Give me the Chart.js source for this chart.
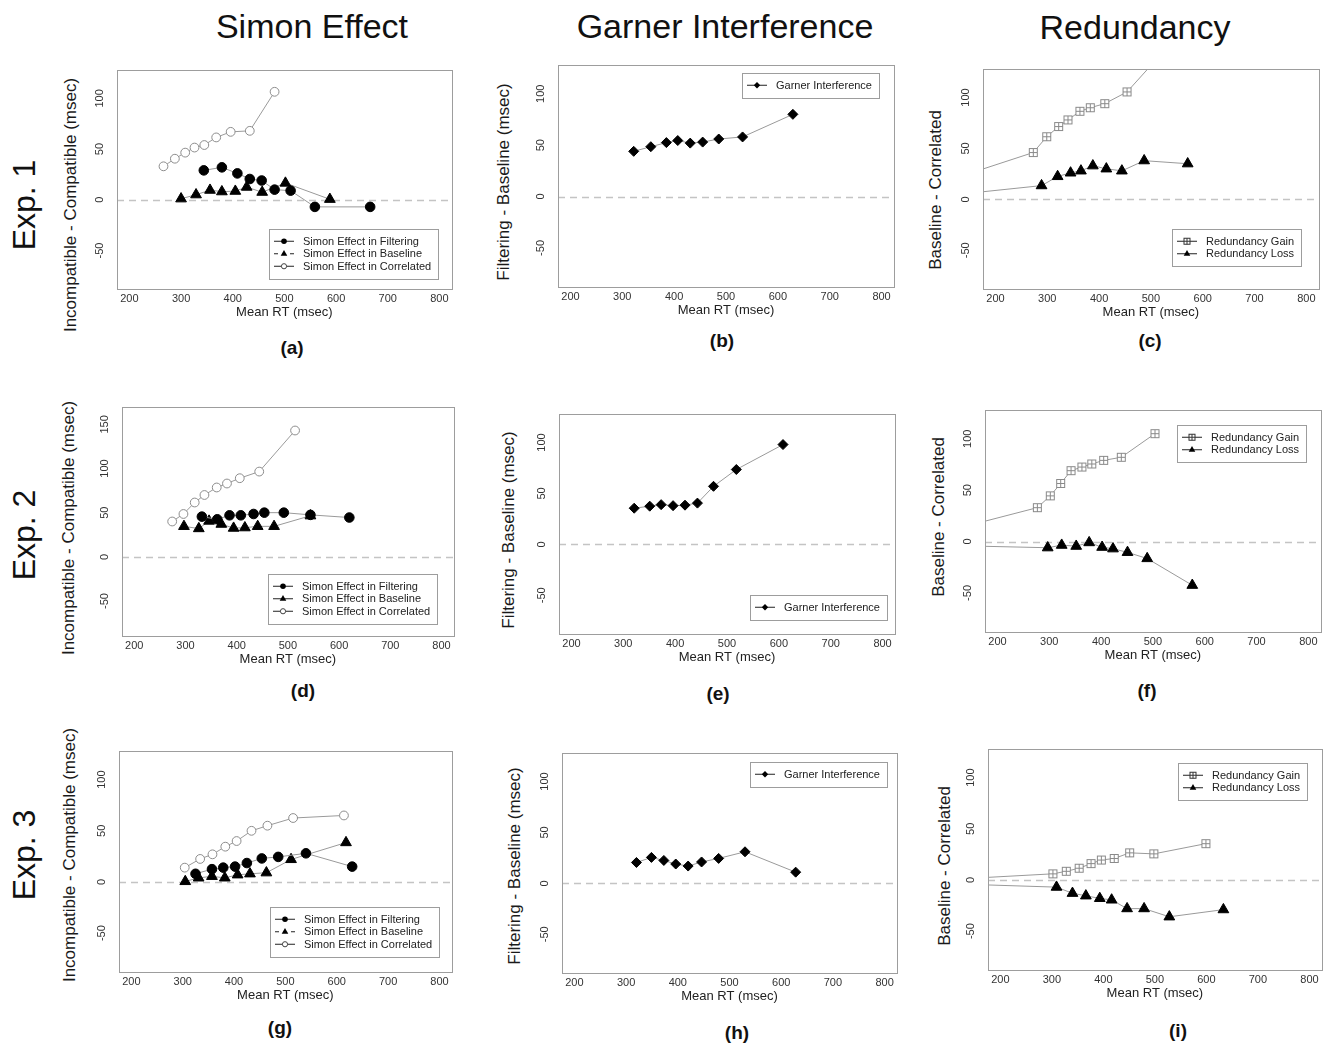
<!DOCTYPE html>
<html>
<head>
<meta charset="utf-8">
<title>Simon Effect, Garner Interference and Redundancy</title>
<script src="https://cdn.jsdelivr.net/npm/chart.js@4.4.1/dist/chart.umd.min.js"></script>
<style>
html,body{margin:0;padding:0;background:#fff;}
#fig{position:relative;width:1331px;height:1045px;overflow:hidden;font-family:'Liberation Sans',Arial,Helvetica,sans-serif;color:#111;}
.t{position:absolute;white-space:nowrap;line-height:1;transform:translate(-50%,-50%);}
.r{transform:translate(-50%,-50%) rotate(-90deg);}
.hdr{font-size:34px;}
.exp{font-size:32px;}
.yt{font-size:17px;color:#1a1a1a;}
.lt{font-size:19px;font-weight:bold;}
canvas{position:absolute;}
</style>
</head>
<body>
<div id="fig">
  <div class="t hdr" style="left:312px;top:26px">Simon Effect</div>
  <div class="t hdr" style="left:725px;top:26px">Garner Interference</div>
  <div class="t hdr" style="left:1135px;top:27px">Redundancy</div>

  <div class="t r exp" style="left:24px;top:205px">Exp. 1</div>
  <div class="t r exp" style="left:24px;top:535px">Exp. 2</div>
  <div class="t r exp" style="left:24px;top:855px">Exp. 3</div>

  <div class="t r yt" style="left:70px;top:205px">Incompatible - Compatible (msec)</div>
  <div class="t r yt" style="left:68px;top:528px">Incompatible - Compatible (msec)</div>
  <div class="t r yt" style="left:69px;top:855px">Incompatible - Compatible (msec)</div>
  <div class="t r yt" style="left:503px;top:182px">Filtering - Baseline (msec)</div>
  <div class="t r yt" style="left:508px;top:530px">Filtering - Baseline (msec)</div>
  <div class="t r yt" style="left:514px;top:866px">Filtering - Baseline (msec)</div>
  <div class="t r yt" style="left:935px;top:190px">Baseline - Correlated</div>
  <div class="t r yt" style="left:938px;top:517px">Baseline - Correlated</div>
  <div class="t r yt" style="left:944px;top:866px">Baseline - Correlated</div>

  <div class="t lt" style="left:292px;top:347px">(a)</div>
  <div class="t lt" style="left:722px;top:340px">(b)</div>
  <div class="t lt" style="left:1150px;top:340px">(c)</div>
  <div class="t lt" style="left:303px;top:690px">(d)</div>
  <div class="t lt" style="left:718px;top:693px">(e)</div>
  <div class="t lt" style="left:1147px;top:690px">(f)</div>
  <div class="t lt" style="left:280px;top:1027px">(g)</div>
  <div class="t lt" style="left:737px;top:1032px">(h)</div>
  <div class="t lt" style="left:1178px;top:1030px">(i)</div>
</div>
<script>
// ---------------- tick labels ----------------
const xTickValues = [200, 300, 400, 500, 600, 700, 800];
const yTickValues = [-50, 0, 50, 100];
const yTickValuesExp2Simon = [-50, 0, 50, 100, 150];
const referenceValue = 0;

// ---------------- Experiment 1 ----------------
const exp1FilteringRT    = [344, 379, 409, 433, 456, 481, 512, 559, 666];
const exp1FilteringSimon = [29, 32, 26, 20.5, 19, 10, 9, -7, -7];
const exp1BaselineRT     = [300, 329, 356, 379, 405, 427, 457, 502, 588];
const exp1BaselineSimon  = [1, 5, 9.5, 8, 8.5, 12.5, 7.5, 16.5, 0.5];
const exp1CorrelatedRT   = [266, 288, 308, 326, 345, 368, 396, 433, 481];
const exp1CorrelatedSimon= [33, 40.5, 46.5, 51.5, 54, 61.5, 67, 68, 106.5];
const exp1GarnerRT       = [322, 355, 385, 407, 431, 455, 486, 532, 629];
const exp1Garner         = [44, 48.5, 52.5, 54.5, 52, 53, 56, 58, 80];
const exp1GainRT         = [120, 273, 299, 322, 340, 363, 383, 411, 454, 540];
const exp1Gain           = [20.5, 46, 61.5, 71.5, 78, 86.5, 90, 94, 105.5, 154];
const exp1LossRT         = [120, 289, 320, 345, 365, 388, 414, 444, 487, 571];
const exp1Loss           = [4.5, 13.5, 22.5, 26, 28, 33, 30, 28, 38, 35];

// ---------------- Experiment 2 ----------------
const exp2FilteringRT    = [332, 362, 386, 408, 433, 454, 492, 544, 620];
const exp2FilteringSimon = [45.5, 42.5, 47, 47, 48.5, 50, 50, 47.5, 44.5];
const exp2BaselineRT     = [297, 326, 346, 370, 394, 416, 441, 473, 544];
const exp2BaselineSimon  = [34.5, 32, 40.5, 37, 32.5, 33, 34.5, 34.5, 46.5];
const exp2CorrelatedRT   = [274, 296, 318, 337, 361, 381, 406, 444, 514];
const exp2CorrelatedSimon= [40, 48.5, 61.5, 70, 78.5, 83, 89, 96.5, 143];
const exp2GarnerRT       = [321, 351, 373, 396, 419, 443, 474, 518, 608];
const exp2Garner         = [35.5, 37.5, 39, 38, 38.5, 40.5, 57, 73.5, 98];
const exp2GainRT         = [120, 277, 302, 322, 342, 363, 382, 405, 439, 504];
const exp2Gain           = [12.5, 33, 44.5, 56.5, 69, 72.5, 75.5, 79, 82, 105];
const exp2LossRT         = [120, 297, 324, 352, 377, 402, 423, 451, 489, 576];
const exp2Loss           = [-4, -6, -3.5, -4.5, -1, -5.5, -7, -10.5, -16.5, -42.5];

// ---------------- Experiment 3 ----------------
const exp3FilteringRT    = [325, 357, 379, 402, 425, 454, 486, 540, 630];
const exp3FilteringSimon = [8, 12.5, 14, 15, 18.5, 23, 24.5, 28, 15];
const exp3BaselineRT     = [305, 331, 357, 382, 407, 431, 463, 511, 618];
const exp3BaselineSimon  = [0.5, 4, 5.5, 4, 7, 8, 9, 22, 38.5];
const exp3CorrelatedRT   = [304, 334, 358, 383, 405, 434, 465, 515, 614];
const exp3CorrelatedSimon= [14, 22.5, 27, 34.5, 40, 50, 55, 62.5, 65];
const exp3GarnerRT       = [320, 349, 373, 396, 420, 446, 479, 530, 628];
const exp3Garner         = [20.5, 25.5, 22.5, 19, 17, 21, 24.5, 31, 11];
const exp3GainRT         = [120, 302, 328, 353, 376, 396, 421, 451, 498, 599];
const exp3Gain           = [1, 6, 8.5, 11.5, 16, 19.5, 21, 26.5, 25.5, 35.5];
const exp3LossRT         = [120, 309, 340, 366, 393, 416, 446, 479, 528, 633];
const exp3Loss           = [-4, -7, -13, -15.5, -18, -19.5, -28, -28, -36, -29];

// ---------------- styling ----------------
const FONT = "'Liberation Sans', Arial, Helvetica, sans-serif";
Chart.defaults.font.family = FONT;
Chart.defaults.color = '#333';
const LINE = '#9a9a9a';
const PT = 16, PR = 6, YW = 34, XH = 34;

function boxPlusImage() {
  const c = document.createElement('canvas');
  c.width = 11; c.height = 11;
  const g = c.getContext('2d');
  g.fillStyle = '#fff'; g.fillRect(1, 1, 9, 9);
  g.strokeStyle = '#8a8a8a'; g.lineWidth = 1;
  g.strokeRect(1.5, 1.5, 8, 8);
  g.beginPath();
  g.moveTo(5.5, 1.5); g.lineTo(5.5, 9.5);
  g.moveTo(1.5, 5.5); g.lineTo(9.5, 5.5);
  g.stroke();
  return c;
}
const BOXPLUS = boxPlusImage();

const STYLES = {
  filled:  {pointStyle: 'circle', pointRadius: 4.8, pointBackgroundColor: '#000', pointBorderColor: '#000', pointBorderWidth: 1},
  tri:     {pointStyle: 'triangle', pointRadius: 6.2, pointBackgroundColor: '#000', pointBorderColor: '#000', pointBorderWidth: 1},
  open:    {pointStyle: 'circle', pointRadius: 4.4, pointBackgroundColor: '#fff', pointBorderColor: '#8c8c8c', pointBorderWidth: 1},
  boxplus: {pointStyle: BOXPLUS, pointRadius: 5, pointBackgroundColor: '#fff', pointBorderColor: '#8c8c8c', pointBorderWidth: 1},
  diamond: {pointStyle: 'rectRot', pointRadius: 5, pointBackgroundColor: '#000', pointBorderColor: '#000', pointBorderWidth: 1}
};

function series(label, xs, ys, style, legendMarker, legendDash) {
  return Object.assign({
    label: label,
    data: xs.map((x, i) => ({x: x, y: ys[i]})),
    showLine: true, borderColor: LINE, borderWidth: 1, fill: false, tension: 0,
    pointHoverRadius: 0, legendMarker: legendMarker, legendDash: legendDash
  }, STYLES[style]);
}

function simonSets(fx, fy, bx, by, cx, cy, dashed) {
  return [
    series('Simon Effect in Filtering', fx, fy, 'filled', 'circle', false),
    series('Simon Effect in Baseline', bx, by, 'tri', 'triangle', dashed),
    series('Simon Effect in Correlated', cx, cy, 'open', 'ocircle', false)
  ];
}
function garnerSets(x, y) {
  return [series('Garner Interference', x, y, 'diamond', 'diamond', false)];
}
function redundancySets(gx, gy, lx, ly) {
  return [
    series('Redundancy Gain', gx, gy, 'boxplus', 'boxplus', false),
    series('Redundancy Loss', lx, ly, 'tri', 'triangle', false)
  ];
}

const PANELS = [
  {box: {l: 117, t: 70,  w: 336, h: 219}, y: [-88, 128], yt: yTickValues, legend: {top: 159, right: 14},
   datasets: simonSets(exp1FilteringRT, exp1FilteringSimon, exp1BaselineRT, exp1BaselineSimon, exp1CorrelatedRT, exp1CorrelatedSimon, true)},
  {box: {l: 558, t: 65,  w: 336, h: 222}, y: [-88, 128], yt: yTickValues, legend: {top: 8, right: 15},
   datasets: garnerSets(exp1GarnerRT, exp1Garner)},
  {box: {l: 983, t: 69,  w: 337, h: 220}, y: [-88, 128], yt: yTickValues, legend: {top: 160, right: 18},
   datasets: redundancySets(exp1GainRT, exp1Gain, exp1LossRT, exp1Loss)},

  {box: {l: 122, t: 407, w: 333, h: 229}, y: [-89.6, 169.6], yt: yTickValuesExp2Simon, legend: {top: 167, right: 17},
   datasets: simonSets(exp2FilteringRT, exp2FilteringSimon, exp2BaselineRT, exp2BaselineSimon, exp2CorrelatedRT, exp2CorrelatedSimon, false)},
  {box: {l: 559, t: 414, w: 336, h: 220}, y: [-88, 128], yt: yTickValues, legend: {top: 181, right: 8},
   datasets: garnerSets(exp2GarnerRT, exp2Garner)},
  {box: {l: 985, t: 410, w: 337, h: 222}, y: [-88, 128], yt: yTickValues, legend: {top: 15, right: 15},
   datasets: redundancySets(exp2GainRT, exp2Gain, exp2LossRT, exp2Loss)},

  {box: {l: 119, t: 751, w: 334, h: 221}, y: [-88, 128], yt: yTickValues, legend: {top: 156, right: 13},
   datasets: simonSets(exp3FilteringRT, exp3FilteringSimon, exp3BaselineRT, exp3BaselineSimon, exp3CorrelatedRT, exp3CorrelatedSimon, true)},
  {box: {l: 562, t: 753, w: 335, h: 220}, y: [-88, 128], yt: yTickValues, legend: {top: 9, right: 10},
   datasets: garnerSets(exp3GarnerRT, exp3Garner)},
  {box: {l: 988, t: 749, w: 335, h: 221}, y: [-88, 128], yt: yTickValues, legend: {top: 14, right: 15},
   datasets: redundancySets(exp3GainRT, exp3Gain, exp3LossRT, exp3Loss)}
];

function drawMarker(ctx, kind, x, y) {
  ctx.save();
  ctx.setLineDash([]);
  ctx.beginPath();
  if (kind === 'circle') {
    ctx.arc(x, y, 2.8, 0, Math.PI * 2);
    ctx.fillStyle = '#000'; ctx.fill();
  } else if (kind === 'triangle') {
    const r = 3.8;
    ctx.moveTo(x, y - r);
    ctx.lineTo(x + r * 0.866, y + r * 0.5);
    ctx.lineTo(x - r * 0.866, y + r * 0.5);
    ctx.closePath();
    ctx.fillStyle = '#000'; ctx.fill();
  } else if (kind === 'ocircle') {
    ctx.arc(x, y, 2.6, 0, Math.PI * 2);
    ctx.fillStyle = '#fff'; ctx.fill();
    ctx.strokeStyle = '#444'; ctx.lineWidth = 1; ctx.stroke();
  } else if (kind === 'diamond') {
    const r = 3.2;
    ctx.moveTo(x - r, y); ctx.lineTo(x, y - r); ctx.lineTo(x + r, y); ctx.lineTo(x, y + r);
    ctx.closePath();
    ctx.fillStyle = '#000'; ctx.fill();
  } else if (kind === 'boxplus') {
    const s = 3;
    ctx.fillStyle = '#fff'; ctx.fillRect(x - s, y - s, 2 * s, 2 * s);
    ctx.strokeStyle = '#333'; ctx.lineWidth = 1;
    ctx.strokeRect(x - s, y - s, 2 * s, 2 * s);
    ctx.moveTo(x, y - s); ctx.lineTo(x, y + s);
    ctx.moveTo(x - s, y); ctx.lineTo(x + s, y);
    ctx.stroke();
  }
  ctx.restore();
}

const decorPlugin = {
  id: 'rdecor',
  beforeDatasetsDraw(chart) {
    const {ctx, chartArea: a, scales} = chart;
    const py = Math.round(scales.y.getPixelForValue(referenceValue)) + 0.5;
    ctx.save();
    ctx.strokeStyle = '#c4c4c4'; ctx.lineWidth = 1.4; ctx.setLineDash([7, 5]);
    ctx.beginPath(); ctx.moveTo(a.left, py); ctx.lineTo(a.right, py); ctx.stroke();
    ctx.restore();
  },
  afterDatasetsDraw(chart, args, opts) {
    const {ctx, chartArea: a} = chart;
    ctx.save();
    ctx.strokeStyle = '#9d9d9d'; ctx.lineWidth = 1; ctx.setLineDash([]);
    ctx.strokeRect(Math.round(a.left) + 0.5, Math.round(a.top) + 0.5,
                   Math.round(a.right - a.left), Math.round(a.bottom - a.top));
    // legend box
    const ds = chart.data.datasets;
    ctx.font = '11px ' + FONT;
    const rowH = 12.5, padY = 6, textX = 34, padR = 7;
    const tw = Math.max.apply(null, ds.map(d => ctx.measureText(d.label).width));
    const w = Math.round(textX + tw + padR), h = Math.round(ds.length * rowH + 2 * padY);
    const lx = Math.round(a.right - opts.right - w), ly = Math.round(a.top + opts.top);
    ctx.fillStyle = '#fff'; ctx.fillRect(lx, ly, w, h);
    ctx.strokeStyle = '#9d9d9d'; ctx.strokeRect(lx + 0.5, ly + 0.5, w, h);
    ds.forEach((d, i) => {
      const cy = ly + padY + rowH * (i + 0.5);
      ctx.strokeStyle = '#222'; ctx.lineWidth = 1;
      ctx.beginPath();
      if (d.legendDash) {
        ctx.moveTo(lx + 5, cy); ctx.lineTo(lx + 9, cy);
        ctx.moveTo(lx + 21, cy); ctx.lineTo(lx + 25, cy);
      } else {
        ctx.moveTo(lx + 5, cy); ctx.lineTo(lx + 25, cy);
      }
      ctx.stroke();
      drawMarker(ctx, d.legendMarker, lx + 15, cy);
      ctx.fillStyle = '#222'; ctx.textBaseline = 'middle'; ctx.textAlign = 'left';
      ctx.font = '11px ' + FONT;
      ctx.fillText(d.label, lx + textX, cy + 0.5);
    });
    ctx.restore();
  }
};

const fig = document.getElementById('fig');
PANELS.forEach(p => {
  const cv = document.createElement('canvas');
  const W = YW + p.box.w + PR, H = PT + p.box.h + XH;
  cv.width = W; cv.height = H;
  cv.style.left = (p.box.l - YW) + 'px';
  cv.style.top = (p.box.t - PT) + 'px';
  cv.style.width = W + 'px'; cv.style.height = H + 'px';
  fig.appendChild(cv);
  const yt = p.yt;
  new Chart(cv.getContext('2d'), {
    type: 'scatter',
    data: {datasets: p.datasets},
    plugins: [decorPlugin],
    options: {
      responsive: false,
      animation: false,
      devicePixelRatio: 1,
      layout: {padding: {top: PT, right: PR, left: 0, bottom: 0}},
      plugins: {
        legend: {display: false},
        tooltip: {enabled: false},
        rdecor: p.legend
      },
      scales: {
        x: {
          type: 'linear', position: 'bottom', min: 176, max: 824,
          afterBuildTicks: s => { s.ticks = xTickValues.map(v => ({value: v})); },
          afterFit: s => { s.height = XH; },
          grid: {display: false, drawTicks: false},
          border: {display: false},
          ticks: {padding: 3, autoSkip: false, maxRotation: 0, font: {size: 11}, color: '#333'},
          title: {display: true, text: 'Mean RT (msec)', font: {size: 13}, color: '#222', padding: {top: 0, bottom: 3}}
        },
        y: {
          type: 'linear', position: 'left', min: p.y[0], max: p.y[1],
          afterBuildTicks: s => { s.ticks = yt.map(v => ({value: v})); },
          afterFit: s => { s.width = YW; },
          grid: {display: false, drawTicks: false},
          border: {display: false},
          ticks: {padding: 8, autoSkip: false, minRotation: 90, maxRotation: 90, crossAlign: 'center', font: {size: 11}, color: '#333'}
        }
      }
    }
  });
});
</script>
</body>
</html>
